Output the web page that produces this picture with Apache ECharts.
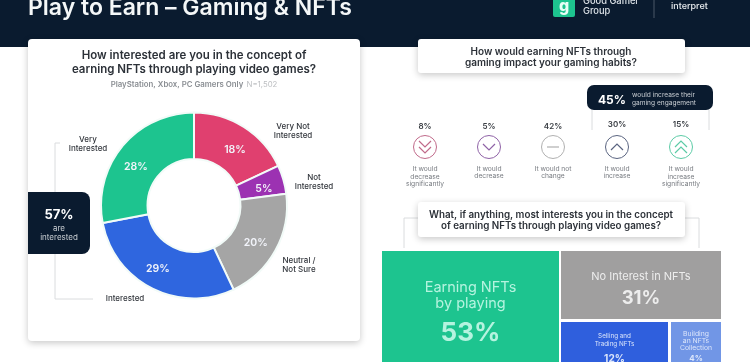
<!DOCTYPE html>
<html><head><meta charset="utf-8">
<style>html,body{margin:0;padding:0;background:#fff}#c{width:750px;height:362px}</style>
<script src="https://cdn.jsdelivr.net/npm/echarts@6/dist/echarts.min.js"></script></head>
<body><div id="c"></div>
<script>
const interestNames = ['Very Not\nInterested','Not\nInterested','Neutral /\nNot Sure','Interested','Very\nInterested'];
const interestValues = [18,5,20,29,28];
const interestColors = ['#E0406F','#9C32B2','#A5A5A5','#2F66DF','#1DC48F'];
const interestLabelPos = [[293,131],[314,182],[299,265],[125,299],[88,144]];
const pieLabelNudge = [[2,6],[0,4],[-2,2],[-3,-1],[-2,8]];
const habitValues = [8,5,42,30,15];
const habitLabels = ['It would\ndecrease\nsignificantly','It would\ndecrease','It would not\nchange','It would\nincrease','It would\nincrease\nsignificantly'];
const habitColors = ['#C06A8A','#8F62A6','#B0B0B0','#5A6480','#5CCBA6'];
const habitChevrons = [-2,-1,0,1,2];
const habitX = [425,489,553,617,681];
const interestNames2 = ['Earning NFTs\nby playing','No Interest in NFTs','Selling and\nTrading NFTs','Building\nan NFTs\nCollection'];
const interestValues2 = [53,31,12,4];
const interestColors2 = ['#1DC48F','#A09F9F','#2F5FDD','#7196E6'];
const boxes = [[382,251,177,122],[561,251,160,68],[561,322,107,51],[671,322,50,51]];
const labelSizes = [[14.5,26,16,42],[11,18.5,13,30],[6.3,10,8,22],[6.8,8,7,16]];
const labelOffsets = [24,14,5,3];
const labelColors = ['#B5F3DF','#EDEDED','#DCE6FB','#DCE6FB'];

const F = 'Inter, "Open Sans", sans-serif';
const navy = '#0A1B2F';
const g = [];
function text(x,y,t,size,color,weight,align,z,lh){
  g.push({type:'text',z:z||10,x,y,style:{text:t,font:(weight||400)+' '+size+'px '+F,fill:color,align:align||'center',verticalAlign:'middle',lineHeight:lh||size*1.3}});
}
function rect(x,y,w,h,fill,r,shadow,z){
  g.push({type:'rect',z:z||1,shape:{x,y,width:w,height:h,r:r||0},style:Object.assign({fill},shadow?{shadowBlur:7,shadowColor:'rgba(0,0,0,0.22)',shadowOffsetY:2}:{})});
}
function line(pts,color,w,z){
  g.push({type:'polyline',z:z||2,shape:{points:pts},style:{stroke:color,lineWidth:w||1,fill:null}});
}
// header
rect(0,0,750,47,navy,0,false,0);
text(28,8,'Play to Earn – Gaming & NFTs',23,'#F4F7F8',600,'left');
rect(553,-6,22,23,'#1DC48F',2,false,3);
text(564,6,'g',16,'#E8FFF6',800,'center');
text(583,6,'Good Gamer\nGroup',9.3,'#DDE3E8',500,'left',10,9.5);
line([[654,0],[654,18]],'#4A5868',1);
text(671,6,'interpret',9,'#E8ECEF',500,'left');
// left card
rect(28,39,332,302,'#fff',4,true,1);
text(194,56,'How interested are you in the concept of',11.5,'#2C3138',600);
text(194,70,'earning NFTs through playing video games?',11.5,'#2C3138',600);
g.push({type:'text',z:10,x:194,y:85,style:{text:'{a|PlayStation, Xbox, PC Gamers Only} {b|N=1,502}',align:'center',verticalAlign:'middle',rich:{a:{font:'600 7.8px '+F,fill:'#8A8E93'},b:{font:'400 7.8px '+F,fill:'#BDBFC2'}}}});
interestNames.forEach((n,i)=>text(interestLabelPos[i][0],interestLabelPos[i][1],n,8,'#33373D',500,'center',10,9.4));
// bracket + badge
line([[60,143],[55,143],[55,299],[93,299]],'#DADCDE',1);
rect(28,192,62,62,navy,[0,8,8,0],false,3);
text(59,215,(interestValues[3]+interestValues[4])+'%',13,'#fff',700);
text(59,229,'are',8,'#C9CED3',400);
text(59,238,'interested',8,'#C9CED3',400);
// question 1
rect(418,39,267,34,'#fff',3,true,1);
text(551,52,'How would earning NFTs through',10,'#2C3138',600);
text(551,63,'gaming impact your gaming habits?',10,'#2C3138',600);
// 45 badge
line([[592,110],[592,130]],'#DADCDE',1);
line([[709,110],[709,130]],'#DADCDE',1);
rect(587,85,126,25,navy,7,false,3);
text(598,100,(habitValues[3]+habitValues[4])+'%',12,'#fff',700,'left');
text(632,95,'would increase their',6.6,'#C9CED3',400,'left');
text(632,103,'gaming engagement',6.6,'#C9CED3',400,'left');
// icons
habitValues.forEach((v,i)=>{
  const x=habitX[i], y=147, c=habitColors[i], up=i>2;
  text(x,up?124.5:127,v+'%',8,'#3A3E44',600);
  g.push({type:'circle',z:3,shape:{cx:x,cy:y,r:11.5},style:{fill:'#fff',stroke:c,lineWidth:1}});
  const k=habitChevrons[i];
  if(k===0) line([[x-6,y],[x+6,y]],c,1.2,4);
  else {
    const d=k>0?-1:1, n=Math.abs(k);
    for(let j=0;j<n;j++){
      const o=n===1?0:(j===0?-3:3);
      line([[x-6,y+o-d*3],[x,y+o+d*3],[x+6,y+o-d*3]],c,1.2,4);
    }
  }
  text(x,habitLabels[i].split('\n').length===3?176.5:172.5,habitLabels[i],6.7,'#777B80',400,'center',10,7.5);
});
// question 2
line([[404,248],[404,218],[699,218],[699,248]],'#DADCDE',1);
rect(418,202,267,35,'#fff',3,true,3);
text(551,215,'What, if anything, most interests you in the concept',9.8,'#2C3138',600);
text(551,226,'of earning NFTs through playing video games?',9.8,'#2C3138',600);

const treemaps = interestValues2.map((v,i)=>({
  type:'treemap',z:3,left:boxes[i][0],top:boxes[i][1],width:boxes[i][2],height:boxes[i][3],
  roam:false,nodeClick:false,silent:true,breadcrumb:{show:false},
  itemStyle:{gapWidth:0,borderWidth:0},
  label:{show:true,position:['50%','50%'],align:'center',verticalAlign:'middle',overflow:'none',offset:[0,labelOffsets[i]],
    formatter:'{n|'+interestNames2[i].split('\n').join('}\n{n|')+'}\n{p|'+v+'%}',
    rich:{n:{fontFamily:F,fontSize:labelSizes[i][0],lineHeight:labelSizes[i][2],color:labelColors[i],align:'center'},
          p:{fontFamily:F,fontSize:labelSizes[i][1],fontWeight:700,color:labelColors[i],align:'center',lineHeight:labelSizes[i][3]}}},
  data:[{name:interestNames2[i],value:v,itemStyle:{color:interestColors2[i]}}]
}));

const chart = echarts.init(document.getElementById('c'),null,{renderer:'canvas'});
chart.setOption({
  animation:false,
  graphic:{elements:g},
  series:[{
    type:'pie',z:4,center:[194,205.5],radius:[46.5,93],startAngle:90,clockwise:true,silent:true,
    itemStyle:{borderColor:'#F2FBF8',borderWidth:2},
    label:{show:true,position:'inside',formatter:'{c}%',fontFamily:F,fontSize:10.5,fontWeight:600,color:'#F2F4FA'},
    labelLine:{show:false},
    labelLayout:p=>({dx:pieLabelNudge[p.dataIndex][0],dy:pieLabelNudge[p.dataIndex][1]}),
    data:interestValues.map((v,i)=>({name:interestNames[i],value:v,itemStyle:{color:interestColors[i]}}))
  }].concat(treemaps)
});
</script></body></html>
